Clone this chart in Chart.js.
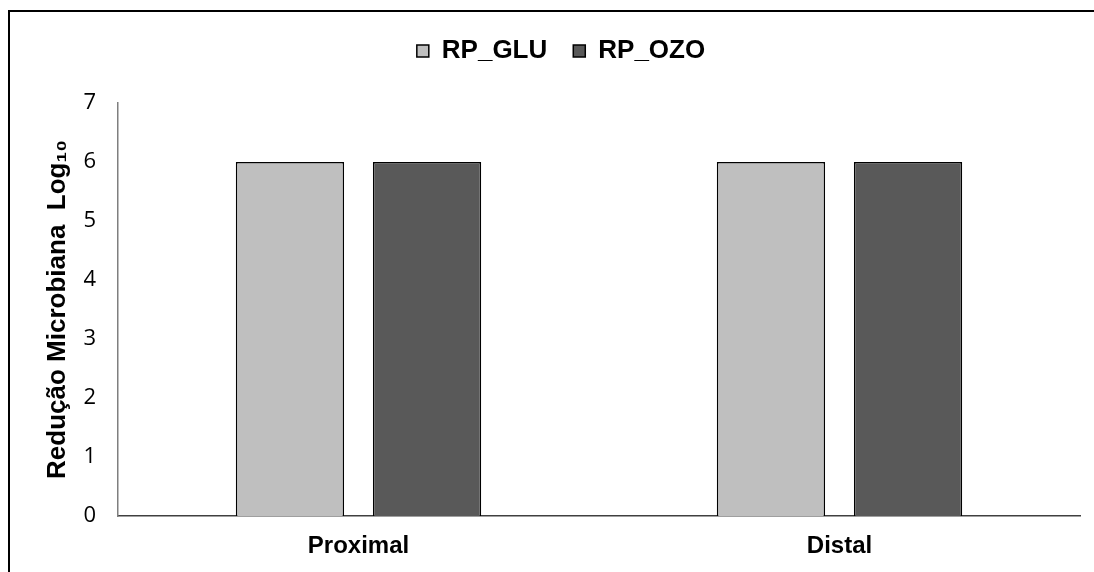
<!DOCTYPE html>
<html>
<head>
<meta charset="utf-8">
<script src="https://cdn.jsdelivr.net/npm/chart.js@4/dist/chart.umd.min.js"></script>
<style>
  body { margin: 0; background: #fff; overflow: hidden; }
  #wrap { position: relative; width: 1094px; height: 572px; }
  #frame { position: absolute; left: 8px; top: 10px; width: 1200px; height: 700px; border: 2px solid #000; }
  canvas { position: absolute; left: 0; top: 0; }
</style>
</head>
<body>
<div id="wrap">
  <div id="frame"></div>
  <canvas id="barsChart" width="1094" height="572"></canvas>
</div>
<script>
const categories = ['Proximal', 'Distal'];
const rpGlu = [6, 6];
const rpOzo = [6, 6];
const yTicks = [0, 1, 2, 3, 4, 5, 6, 7];

// push the plot down below the legend
const legendGap = {
  id: 'legendGap',
  beforeInit(chart) {
    const fit = chart.legend.fit;
    chart.legend.fit = function () {
      fit.bind(chart.legend)();
      this.height += 29;
    };
  },
};

const barConfig = {
  type: 'bar',
  data: {
    labels: categories,
    datasets: [
      {
        label: 'RP_GLU',
        backgroundColor: '#bfbfbf',
        borderColor: '#000',
        borderWidth: 1.5,
        data: rpGlu,
        categoryPercentage: 0.57,
        barPercentage: 0.79,
      },
      {
        label: 'RP_OZO',
        backgroundColor: '#595959',
        borderColor: '#000',
        borderWidth: 1.5,
        data: rpOzo,
        categoryPercentage: 0.57,
        barPercentage: 0.79,
      },
    ],
  },
  options: {
    responsive: false,
    animation: false,
    layout: {
      padding: { top: 12, right: 14, bottom: 8, left: 42 },
    },
    plugins: {
      tooltip: { enabled: false },
      legend: {
        display: true,
        position: 'top',
        labels: {
          color: '#000',
          font: { family: 'Liberation Sans', size: 26, weight: 'bold' },
          boxWidth: 12,
          boxHeight: 12,
          padding: 26,
        },
      },
    },
    scales: {
      x: {
        grid: { display: false, drawTicks: false },
        border: { color: '#404040', width: 1.5 },
        ticks: {
          color: '#000',
          padding: 16,
          font: { family: 'Liberation Sans', size: 24, weight: 'bold' },
        },
        afterFit: function (scale) { scale.height = 48; },
      },
      y: {
        min: 0,
        max: 7,
        afterBuildTicks: function (scale) {
          scale.ticks = yTicks.map(function (v) { return { value: v }; });
        },
        grid: { display: false, drawTicks: false },
        border: { color: '#7f7f7f', width: 1.5 },
        ticks: {
          color: '#000',
          padding: 22,
          font: { family: 'Open Sans', size: 22 },
        },
        title: {
          display: true,
          text: 'Redução Microbiana  Log₁₀',
          color: '#000',
          padding: 0,
          font: { family: 'Liberation Sans', size: 26, weight: 'bold' },
        },
        afterFit: function (scale) { scale.width = 76; },
      },
    },
  },
  plugins: [legendGap],
};

const barsCtx = document.getElementById('barsChart');
window.myBar = new Chart(barsCtx, barConfig);
</script>
</body>
</html>
